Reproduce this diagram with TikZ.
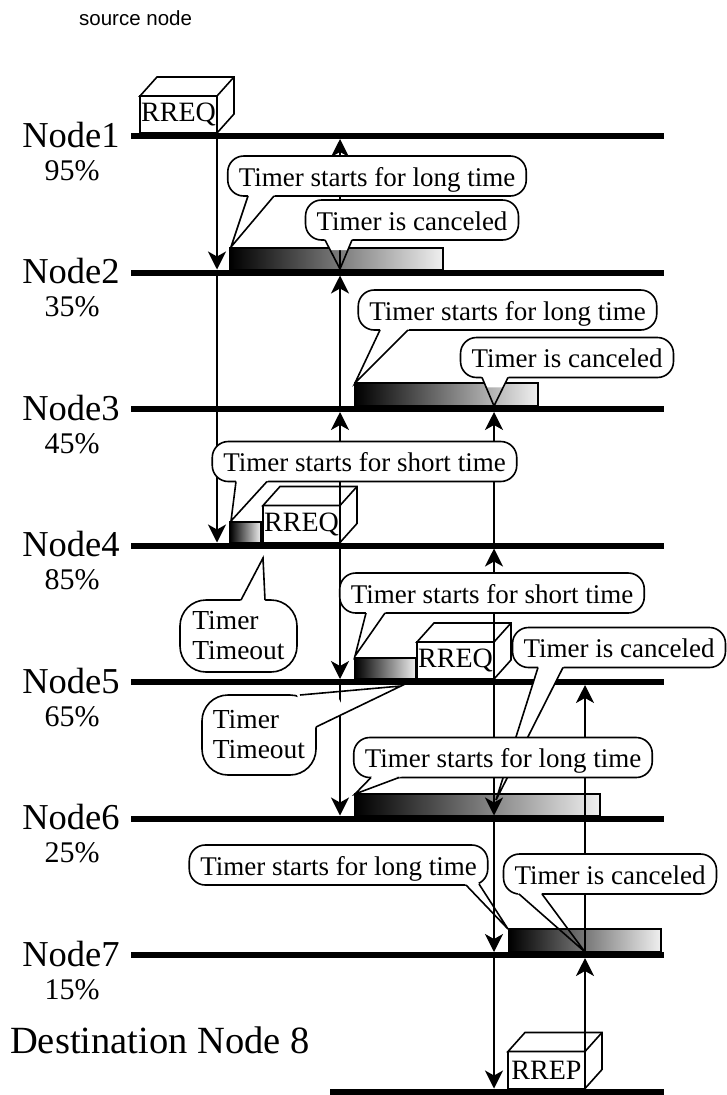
\documentclass[tikz,border=0pt]{standalone}
\usepackage{fontspec}
\setmainfont{Liberation Serif}
\newfontfamily\srcfont{Liberation Sans}
\usetikzlibrary{arrows.meta,calc}

\begin{document}
\begin{tikzpicture}[x=1pt,y=-1pt,>={Stealth[length=18pt,width=18pt,inset=5pt]},
  nodeline/.style={line width=6pt},
  msg/.style={->,line width=1.6pt},
  nodelbl/.style={anchor=base,inner sep=0pt,font=\fontsize{36.5}{40}\selectfont},
  pctlbl/.style={anchor=base,inner sep=0pt,font=\fontsize{30}{34}\selectfont},
  timerbar/.style={draw,line width=1.2pt,left color=black,right color=black!6},
  pkt/.style={draw,fill=white,line width=1.6pt,outer sep=0pt,inner sep=0pt,minimum width=77pt,minimum height=37pt,font=\fontsize{28}{30}\selectfont},
  pktside/.style={draw,fill=white,line width=1.6pt},
  bubble/.style={draw,fill=white,line width=1.6pt,rounded corners=16pt,inner xsep=11pt,inner ysep=0pt,minimum height=40pt,text height=24pt,text depth=4pt,font=\fontsize{27}{30}\selectfont},
  tallbubble/.style={draw,fill=white,line width=1.6pt,rounded corners=26pt,inner sep=0pt,align=left,font=\fontsize{27.5}{30}\selectfont},
  pointer/.style={line width=1.6pt}]
  \path[fill=white,use as bounding box] (0,0) rectangle (727,1095);
  \node[anchor=base west,inner sep=0pt,font=\srcfont\fontsize{20.5}{24}\selectfont] (src) at (79,25) {source node};
  % lineas de tiempo de los nodos
  \foreach \n/\p in {1/95,2/35,3/45,4/85,5/65,6/25,7/15} {
    \pgfmathsetmacro\yy{136+136.5*(\n-1)}
    \coordinate (L\n) at (131,\yy);
    \coordinate (R\n) at (664,\yy);
    \draw[nodeline] (L\n) -- (R\n);
    \node[nodelbl] (name\n) at (71,\yy+11) {Node\n};
    \node[pctlbl] (pct\n) at (72,\yy+44) {\p\%};
  }
  \coordinate (L8) at (330,1091.5);
  \coordinate (R8) at (664,1091.5);
  \draw[nodeline] (L8) -- (R8);
  \node[anchor=base west,inner sep=0pt,font=\fontsize{38.5}{44}\selectfont] (dest) at (10,1053) {Destination Node 8};
  % barras de temporizador
  \foreach \xa/\ya/\xb/\yb in {230/248/443/269.5,355/383/538/406,230/522/261/542.5,355/658/416/679,355/794/600/815.5,509/929/661/952}
    \shadedraw[timerbar] (\xa,\ya) rectangle (\xb,\yb);
  % paquetes rreq y rrep
  \foreach \q/\pos/\txt in {q1/{(178.5,114.5)}/RREQ,q4/{(301.5,524)}/RREQ,q5/{(455.5,660.5)}/RREQ,p8/{(546.5,1070)}/RREP} {
    \path \pos coordinate (\q c);
    \node[pkt] (\q) at (\q c) {\txt};
    \filldraw[pktside] (\q.north west) -- ++(17,-19) -- ++(77,0) -- ++(0,37) -- (\q.south east) -- (\q.north east) -- cycle;
    \draw[pktside] (\q.north east) -- ++(17,-19);
  }
  % cruces de los mensajes con las lineas
  \foreach \m/\x in {a/217,b/340,c/494,d/585}
    \foreach \n in {1,...,8} {
      \pgfmathsetmacro\yy{136+136.5*(\n-1)}
      \coordinate (\m\n) at (\x,\yy);
      \coordinate (\m t\n) at (\x,\yy-3);
      \coordinate (\m b\n) at (\x,\yy+3);
    }
  \draw[msg] (a1) -- (at2);
  \draw[msg] (at2) -- (at4);
  \draw[msg] (b4) -- (bb3);
  \draw[msg] (bb3) -- (bb2);
  \draw[msg] (bb2) -- (bb1);
  \draw[msg] (b4) -- (bt5);
  \draw[msg] (bt5) -- (bt6);
  \draw[msg] (c5) -- (cb4);
  \draw[msg] (cb4) -- (cb3);
  \draw[msg] (c5) -- (ct6);
  \draw[msg] (ct6) -- (ct7);
  \draw[msg] (ct7) -- (ct8);
  \draw[msg] (d8) -- (db7);
  \draw[msg] (db7) -- (db5);
  % globos de timeout
  \node[tallbubble,minimum width=117pt,minimum height=72pt] (out4) at (238.5,636) {Timer\\Timeout};
  \coordinate (oa4) at (241,600); \coordinate (ob4) at (265,600); \coordinate (ok4) at (263,558);
  \fill[white] ($(oa4)!-3pt!(ok4)$) -- ($(oa4)!.35!(ok4)$) -- ($(ob4)!.35!(ok4)$) -- ($(ob4)!-3pt!(ok4)$) -- cycle;
  \draw[pointer] (oa4) -- (ok4) -- (ob4);
  \node[tallbubble,minimum width=114pt,minimum height=80pt] (out5) at (259,735) {Timer\\Timeout};
  \coordinate (oa5) at (300,695); \coordinate (ob5) at (316,727); \coordinate (ok5) at (401,686);
  \fill[white] ($(oa5)!-3pt!(ok5)$) -- ($(oa5)!.35!(ok5)$) -- ($(ob5)!.35!(ok5)$) -- ($(ob5)!-3pt!(ok5)$) -- cycle;
  \draw[pointer] (oa5) -- (ok5) -- (ob5);
  % globos del temporizador
  \foreach \pos/\txt/\pa/\pb/\pk [count=\i] in {
      {(377,176)}/{Timer starts for long time}/{(248,196)}/{(274,196)}/{(231,247)},
      {(412,220)}/{Timer is canceled}/{(325,240)}/{(352,240)}/{(340,269)},
      {(507.5,310)}/{Timer starts for long time}/{(380,330)}/{(408,330)}/{(355,383)},
      {(567,357.5)}/{Timer is canceled}/{(482,377.5)}/{(508,377.5)}/{(494,406)},
      {(364.5,461.5)}/{Timer starts for short time}/{(236,481.5)}/{(267,481.5)}/{(231,521)},
      {(492,593)}/{Timer starts for short time}/{(366,613)}/{(385,613)}/{(355,656)},
      {(619,647.5)}/{Timer is canceled}/{(538,667.5)}/{(563,667.5)}/{(496,800)},
      {(503,757.5)}/{Timer starts for long time}/{(371,777.5)}/{(399,777.5)}/{(355,794)},
      {(338.5,865)}/{Timer starts for long time}/{(466,885)}/{(479,884)}/{(508,929)},
      {(610,874)}/{Timer is canceled}/{(519,894)}/{(542,894)}/{(585,952)}} {
    \path \pos coordinate (bc\i) \pa coordinate (pa) \pb coordinate (pb) \pk coordinate (pk);
    \node[bubble] (bub\i) at (bc\i) {\txt};
    \fill[white] ($(pa)!-3pt!(pk)$) -- ($(pa)!.35!(pk)$) -- ($(pb)!.35!(pk)$) -- ($(pb)!-3pt!(pk)$) -- cycle;
    \draw[pointer] (pa) -- (pk) -- (pb);
  }
\end{tikzpicture}
\end{document}
